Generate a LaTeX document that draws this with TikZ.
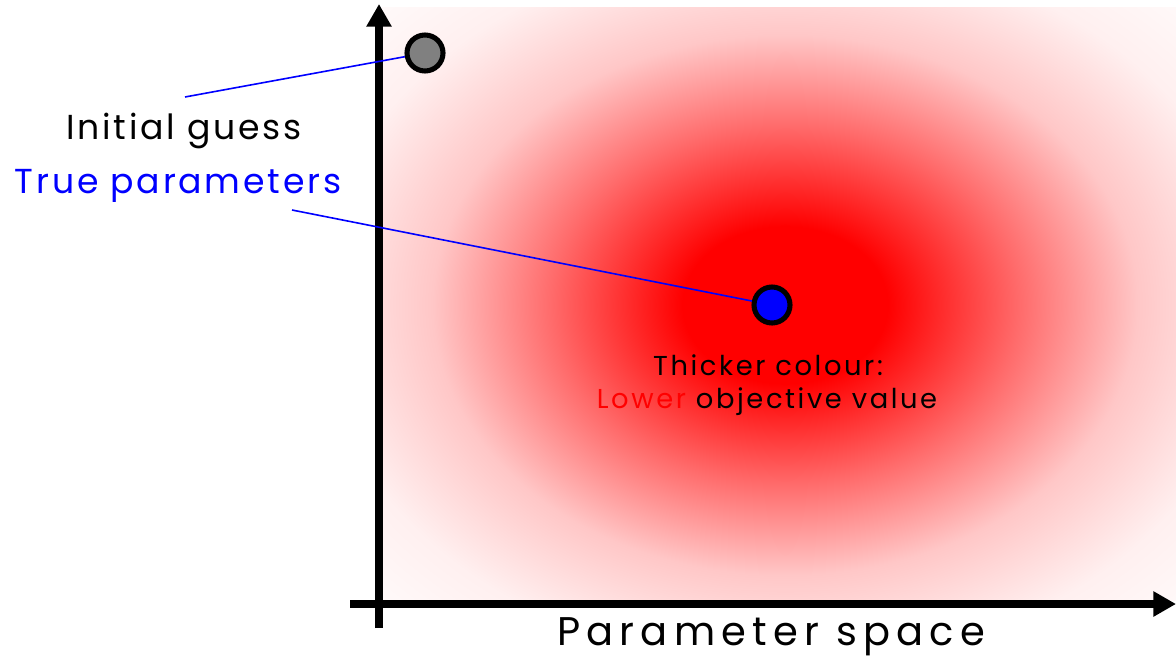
\documentclass[tikz,border=0pt]{standalone}
\usepackage{fontspec}
\setmainfont{Poppins}
\newfontfamily\lblfont[LetterSpace=8]{Poppins}
\newfontfamily\notefont[LetterSpace=9.5]{Poppins}
\newfontfamily\axfont[LetterSpace=15.5]{Poppins}
\usetikzlibrary{arrows.meta}
\pgfdeclareradialshading{redblob}{\pgfpoint{0bp}{0bp}}{color(0bp)=(red); color(3.9bp)=(red); color(8.9bp)=(red!58); color(13.4bp)=(red!22); color(17.9bp)=(red!6); color(23.2bp)=(white); color(25bp)=(white); color(100bp)=(white)}
\tikzset{
  axis/.style={line width=6pt, -{Triangle[length=17pt,width=18pt]}},
  pt/.style={circle, draw=black, line width=3.8pt, minimum size=27pt, inner sep=0pt},
  lead/.style={blue, line width=1.2pt},
  lbl/.style={font=\lblfont\fontsize{26}{30}\selectfont, inner sep=0pt, anchor=base},
  note/.style={font=\notefont\fontsize{20.5}{24}\selectfont, inner sep=0pt, anchor=base},
}
\begin{document}
\begin{tikzpicture}[x=0.75pt,y=-0.75pt]
\useasboundingbox (0,0) rectangle (1176,663);
\begin{scope}
  \clip (382,8) rectangle (1176,600);
  \fill[shading=redblob] (785,305) ellipse [x radius=658, y radius=504];
\end{scope}
\draw[axis] (379,628) -- (379,4);
\draw[axis] (350,604) -- (1176,604);
\node[pt, fill=gray] (g) at (425,53) {};
\node[pt, fill=blue] (t) at (772,305) {};
\node[lbl] (ig) at (184,139) {Initial guess};
\node[lbl, text=blue] (tp) at (178,193) {True parameters};
\node[note] (n1) at (768,375) {Thicker colour:};
\node[note] (n2) at (767,408) {\textcolor{red}{Lower} objective value};
\node[lbl, font=\axfont\fontsize{30}{34}\selectfont] (ps) at (771,645) {Parameter space};
\coordinate (igl) at (185,97);
\coordinate (tpl) at (292,210);
\draw[lead] (igl) -- (g);
\draw[lead] (tpl) -- (t);
\end{tikzpicture}
\end{document}
